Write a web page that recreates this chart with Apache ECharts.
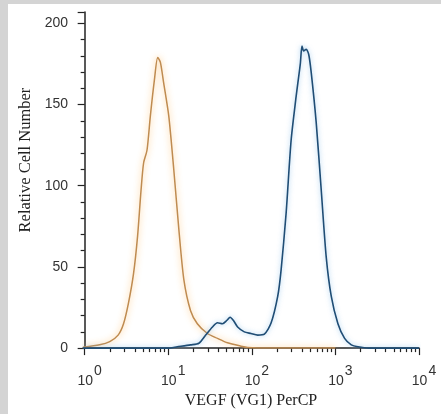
<!DOCTYPE html>
<html>
<head>
<meta charset="utf-8">
<script src="https://cdn.jsdelivr.net/npm/echarts@6/dist/echarts.min.js"></script>
<style>
  html, body { margin: 0; padding: 0; background: #fff; }
  #wrap {
    width: 441px; height: 414px; box-sizing: border-box;
    border-top: 4px solid #d4d4d4; border-left: 8px solid #d4d4d4;
  }
  #histo { width: 433px; height: 410px; }
</style>
</head>
<body>
<div id="wrap"><div id="histo"></div></div>
<script>
// x values are log10 of fluorescence intensity
const isotypeLog = [-0.02, 0.18, 0.30, 0.40, 0.465, 0.525, 0.585, 0.633, 0.674, 0.705, 0.746, 0.786, 0.834, 0.874, 0.906, 0.946, 1.006, 1.066, 1.127, 1.187, 1.267, 1.348, 1.468, 1.589, 1.709, 1.87, 1.95, 2.2, 3.0];
const isotypeCount = [0.5, 2, 4, 8, 15, 28, 46, 69, 97, 114, 122, 143, 165, 179, 176, 163, 143, 110, 73, 42, 23, 15, 9, 6, 3.3, 1.2, 0.4, 0, 0];

const vegfLog = [-0.02, 1.0, 1.107, 1.267, 1.367, 1.448, 1.529, 1.589, 1.649, 1.70, 1.74, 1.78, 1.83, 1.91, 1.99, 2.07, 2.15, 2.23, 2.31, 2.35, 2.41, 2.47, 2.53, 2.55, 2.58, 2.60, 2.62, 2.65, 2.68, 2.71, 2.77, 2.83, 2.89, 2.95, 3.03, 3.11, 3.19, 3.27, 3.4, 4.0];
const vegfCount = [0, 0, 0.8, 2, 3, 8, 13, 15.6, 15, 17, 19, 17, 13, 10, 9, 8, 8.6, 15.4, 32, 48, 83, 128, 155, 163, 175, 186, 183, 184, 181, 170, 139, 97.5, 56, 32, 15, 6, 2, 0.8, 0, 0];

const decades = [0, 1, 2, 3, 4];
const minorMultipliers = [2, 3, 4, 5, 6, 7, 8, 9];
const yLabels = [0, 50, 100, 150, 200];
const yMinor = [10, 20, 30, 40, 60, 70, 80, 90, 110, 120, 130, 140, 160, 170, 180, 190];

const minorX = [];
decades.slice(0, -1).forEach(d => {
  minorMultipliers.forEach(m => minorX.push(d + Math.log10(m)));
});

const chart = echarts.init(document.getElementById('histo'));

const axisColor = '#222';
const xMin = -0.02, xMax = 4, yMax = 207;

chart.setOption({
  animation: false,
  grid: { left: 75, right: 22, top: 8, bottom: 62 },
  xAxis: [
    {
      type: 'value',
      min: xMin,
      max: xMax,
      splitLine: { show: false },
      axisLine: { lineStyle: { color: axisColor, width: 1.5 } },
      axisTick: { customValues: decades, length: 7, lineStyle: { color: axisColor, width: 1.2 } },
      axisLabel: {
        customValues: decades,
        margin: 16,
        formatter: v => '{b|10}{s|' + Math.round(v) + '}',
        rich: {
          b: { fontFamily: 'Liberation Sans', fontSize: 14, color: '#333', padding: [10, 0, 0, 10] },
          s: { fontFamily: 'Liberation Sans', fontSize: 14, color: '#333', padding: [0, 0, 10, 1] },
        },
      },
      name: 'VEGF (VG1) PerCP',
      nameLocation: 'middle',
      nameGap: 39,
      nameTextStyle: { fontFamily: 'Liberation Serif', fontSize: 16, color: '#222' },
    },
    {
      // minor log ticks
      type: 'value',
      min: xMin,
      max: xMax,
      position: 'bottom',
      splitLine: { show: false },
      axisLine: { show: false },
      axisLabel: { show: false },
      axisTick: { customValues: minorX, length: 4, lineStyle: { color: axisColor, width: 1.2 } },
    },
  ],
  yAxis: [
    {
      type: 'value',
      min: 0,
      max: yMax,
      splitLine: { show: false },
      axisLine: { show: true, lineStyle: { color: axisColor, width: 1.5 } },
      axisTick: { show: true, customValues: yLabels.concat([yMax]), length: 7, lineStyle: { color: axisColor, width: 1.2 } },
      axisLabel: {
        customValues: yLabels,
        margin: 15,
        fontFamily: 'Liberation Sans',
        fontSize: 14,
        color: '#333',
      },
      name: 'Relative Cell Number',
      nameLocation: 'middle',
      nameGap: 46,
      nameRotate: 90,
      nameTextStyle: { fontFamily: 'Liberation Serif', fontSize: 16.5, color: '#222', padding: [0, 0, 0, 40] },
    },
    {
      type: 'value',
      min: 0,
      max: yMax,
      position: 'left',
      splitLine: { show: false },
      axisLine: { show: false },
      axisLabel: { show: false },
      axisTick: { show: true, customValues: yMinor, length: 4, lineStyle: { color: axisColor, width: 1.2 } },
    },
  ],
  series: [
    {
      name: 'Isotype',
      type: 'line',
      showSymbol: false,
      smooth: 0.25,
      data: isotypeLog.map((x, i) => [x, isotypeCount[i]]),
      lineStyle: { color: '#bf8b50', width: 1.5, shadowBlur: 6, shadowColor: 'rgba(255,175,70,0.8)' },
    },
    {
      name: 'VEGF',
      type: 'line',
      showSymbol: false,
      smooth: 0.25,
      data: vegfLog.map((x, i) => [x, vegfCount[i]]),
      lineStyle: { color: '#1f4d75', width: 1.6, shadowBlur: 5, shadowColor: 'rgba(110,175,230,0.7)' },
    },
  ],
});
</script>
</body>
</html>
